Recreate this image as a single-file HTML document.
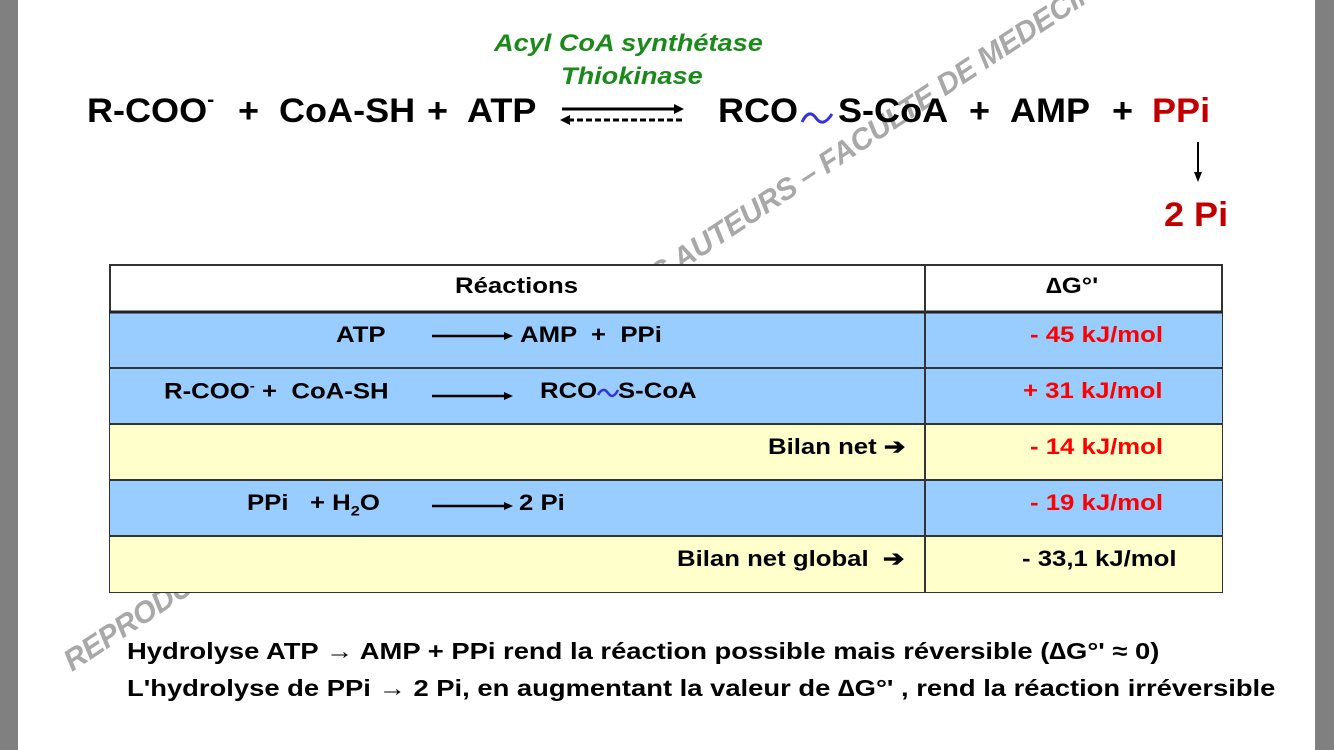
<!DOCTYPE html>
<html><head><meta charset="utf-8"><style>
body{margin:0;width:1334px;height:750px;background:#fff;position:relative;overflow:hidden;font-family:"Liberation Sans",Arial,sans-serif;font-weight:bold}
.g{position:absolute;top:0;bottom:0;width:18px;background:#808080}
.t{position:absolute;white-space:nowrap;transform-origin:0 0}
.e{font-size:34px;top:92px;transform:scaleX(1.06)}
.s{transform:scaleX(1.17);font-size:22px}
.c{position:absolute;box-sizing:border-box}
.r{color:#f00}
</style></head><body>
<div class="g" style="left:0"></div><div class="g" style="right:0;width:19px"></div>
<svg width="1334" height="750" style="position:absolute;left:0;top:0">
<text x="72" y="672" transform="rotate(-33.4 72 672)" font-family="Liberation Sans" font-style="italic" font-size="30" fill="#a8a8a8" textLength="1250">REPRODUCTION INTERDITE SANS L'ACCORD DES AUTEURS – FACULTE DE MEDECINE</text>
</svg>
<div class="t" style="left:494px;top:30px;color:#1a8a1a;font-style:italic;font-size:24px;transform:scaleX(1.13)">Acyl CoA synthétase</div>
<div class="t" style="left:561px;top:63px;color:#1a8a1a;font-style:italic;font-size:24px;transform:scaleX(1.13)">Thiokinase</div>
<div class="t e" style="left:87px">R-COO<sup style="font-size:20px;position:relative;top:-4px">-</sup></div>
<div class="t e" style="left:238px">+</div>
<div class="t e" style="left:279px">CoA-SH</div>
<div class="t e" style="left:427px">+</div>
<div class="t e" style="left:467px">ATP</div>
<div class="t e" style="left:718px">RCO</div>
<div class="t e" style="left:838px">S-CoA</div>
<div class="t e" style="left:969px">+</div>
<div class="t e" style="left:1010px">AMP</div>
<div class="t e" style="left:1112px">+</div>
<div class="t e" style="left:1152px;color:#c00000">PPi</div>
<div class="t e" style="left:1164px;top:196px;color:#c00000">2 Pi</div>

<div class="c" style="left:109px;top:264px;width:1114px;height:329px;border:2px solid #333;background:#fff"></div>
<div class="c" style="left:110px;top:312px;width:1112px;height:112px;background:#99ccff"></div>
<div class="c" style="left:110px;top:424px;width:1112px;height:56px;background:#ffffcc"></div>
<div class="c" style="left:110px;top:480px;width:1112px;height:56px;background:#99ccff"></div>
<div class="c" style="left:110px;top:536px;width:1112px;height:56px;background:#ffffcc"></div>
<svg width="1334" height="750" style="position:absolute;left:0;top:0">
<g stroke="#333" stroke-width="2">
<line x1="109" y1="312" x2="1223" y2="312" stroke-width="3" stroke="#222"/>
<line x1="109" y1="368" x2="1223" y2="368"/>
<line x1="109" y1="424" x2="1223" y2="424"/>
<line x1="109" y1="480" x2="1223" y2="480"/>
<line x1="109" y1="536" x2="1223" y2="536"/>
<line x1="925" y1="264" x2="925" y2="593"/>
</g>
<line x1="562" y1="109" x2="678" y2="109" stroke="#000" stroke-width="3"/><polygon points="684,109 674,104 674,114" fill="#000"/>
<line x1="568" y1="120" x2="683" y2="120" stroke="#000" stroke-width="3" stroke-dasharray="6,3"/><polygon points="560,120 570,115 570,125" fill="#000"/>
<path d="M802,122 q7,-14 14,-4 q7,10 16,-4" stroke="#3333dd" stroke-width="3" fill="none"/>
<line x1="1198" y1="142" x2="1198" y2="176" stroke="#000" stroke-width="2"/><polygon points="1198,182 1194,172 1202,172" fill="#000"/>
<line x1="432" y1="336" x2="506" y2="336" stroke="#000" stroke-width="2.5"/><polygon points="513,336 504,332 504,340" fill="#000"/>
<line x1="432" y1="396" x2="506" y2="396" stroke="#000" stroke-width="2.5"/><polygon points="513,396 504,392 504,400" fill="#000"/>
<line x1="432" y1="506" x2="506" y2="506" stroke="#000" stroke-width="2.5"/><polygon points="513,506 504,502 504,510" fill="#000"/>
<path d="M598,395 q5,-9 10,-2 q5,7 10,-3" stroke="#3333dd" stroke-width="2.5" fill="none"/>
</svg>
<div class="t s" style="left:455px;top:273px">Réactions</div>
<div class="t s" style="left:1046px;top:273px">∆G°'</div>
<div class="t s" style="left:336px;top:322px">ATP</div>
<div class="t s" style="left:520px;top:322px">AMP &nbsp;+ &nbsp;PPi</div>
<div class="t s" style="left:164px;top:378px">R-COO<sup style="font-size:13px">-</sup> + &nbsp;CoA-SH</div>
<div class="t s" style="left:540px;top:378px">RCO</div>
<div class="t s" style="left:618px;top:378px">S-CoA</div>
<div class="t s" style="left:768px;top:434px">Bilan net ➔</div>
<div class="t s" style="left:247px;top:490px">PPi &nbsp; + H<sub style="font-size:14px">2</sub>O</div>
<div class="t s" style="left:519px;top:490px">2 Pi</div>
<div class="t s" style="left:677px;top:546px">Bilan net global &nbsp;➔</div>
<div class="t s r" style="left:1030px;top:322px">- 45 kJ/mol</div>
<div class="t s r" style="left:1023px;top:378px">+ 31 kJ/mol</div>
<div class="t s r" style="left:1030px;top:434px">- 14 kJ/mol</div>
<div class="t s r" style="left:1030px;top:490px">- 19 kJ/mol</div>
<div class="t s" style="left:1022px;top:546px">- 33,1 kJ/mol</div>
<div class="t" style="left:127px;top:638px;font-size:23.5px;transform:scaleX(1.165)">Hydrolyse ATP → AMP + PPi rend la réaction possible mais réversible (∆G°' ≈ 0)</div>
<div class="t" style="left:127px;top:675px;font-size:23.5px;transform:scaleX(1.165)">L'hydrolyse de PPi → 2 Pi, en augmentant la valeur de ∆G°' , rend la réaction irréversible</div>
</body></html>
